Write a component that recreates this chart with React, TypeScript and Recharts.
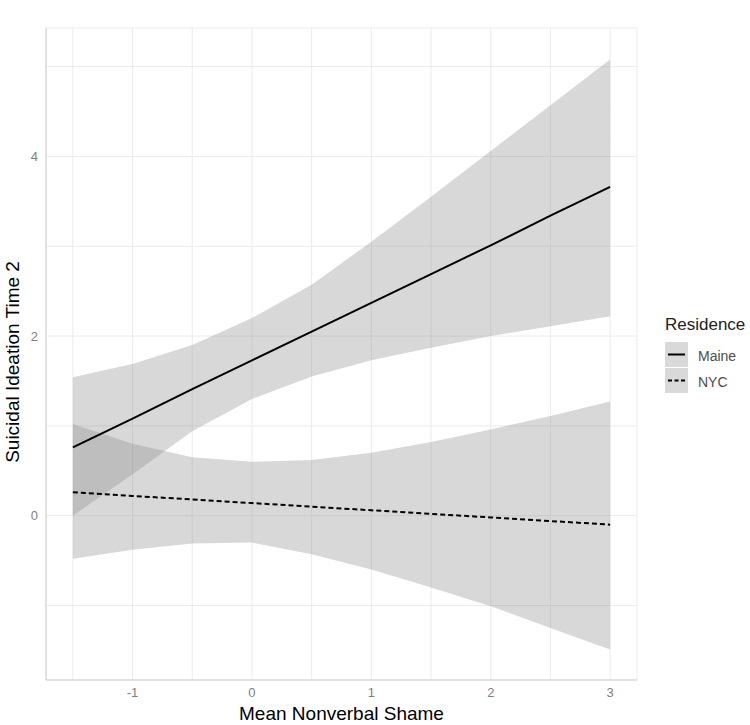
import React from "react";
import {
  Area,
  CartesianGrid,
  ComposedChart,
  Legend,
  Line,
  XAxis,
  YAxis,
} from "recharts";

// shame score sampled along the fitted range
const shame = [-1.5, -1, -0.5, 0, 0.5, 1, 1.5, 2, 2.5, 3];

// Maine: fitted line and 95% band
const maineFit = [0.76, 1.08, 1.41, 1.73, 2.05, 2.37, 2.69, 3.01, 3.34, 3.66];
const maineLow = [0.0, 0.46, 0.94, 1.3, 1.55, 1.73, 1.87, 2.0, 2.11, 2.22];
const maineHigh = [1.54, 1.69, 1.9, 2.2, 2.57, 3.05, 3.55, 4.06, 4.57, 5.08];

// NYC: fitted line and 95% band
const nycFit = [0.26, 0.22, 0.18, 0.14, 0.1, 0.06, 0.02, -0.02, -0.06, -0.1];
const nycLow = [-0.48, -0.38, -0.31, -0.3, -0.43, -0.6, -0.8, -1.01, -1.25, -1.49];
const nycHigh = [1.02, 0.8, 0.65, 0.6, 0.62, 0.7, 0.82, 0.96, 1.11, 1.27];

const xTicks = [-1.5, -1, -0.5, 0, 0.5, 1, 1.5, 2, 2.5, 3];
const xLabels = [-1, 0, 1, 2, 3];
const yTicks = [-1, 0, 1, 2, 3, 4, 5];
const yLabels = [0, 2, 4];

const groups = [
  { name: "Maine", dash: undefined as string | undefined },
  { name: "NYC", dash: "4 2.5" },
];

const data = shame.map((x, i) => ({
  x,
  maine: maineFit[i],
  maineBand: [maineLow[i], maineHigh[i]],
  nyc: nycFit[i],
  nycBand: [nycLow[i], nycHigh[i]],
}));

const FONT = '"Liberation Sans", Arial, sans-serif';
const tickStyle = { fill: "#7f7f7f", fontSize: 13, fontFamily: FONT };

function ResidenceLegend() {
  return (
    <div style={{ fontFamily: FONT }}>
      <div style={{ fontSize: 17, color: "#222", lineHeight: "22px" }}>Residence</div>
      <div style={{ marginTop: 6 }}>
        {groups.map((g) => (
          <div key={g.name} style={{ display: "flex", alignItems: "center", height: 25, marginBottom: 1 }}>
            <svg width={23} height={25} style={{ background: "#d9d9d9", display: "block" }}>
              <line x1={3} y1={12.5} x2={20} y2={12.5} stroke="#000" strokeWidth={2} strokeDasharray={g.dash} />
            </svg>
            <span style={{ marginLeft: 10, fontSize: 14, color: "#4d4d4d", marginTop: 3 }}>{g.name}</span>
          </div>
        ))}
      </div>
    </div>
  );
}

export default function App() {
  return (
    <div style={{ position: "absolute", left: 0, top: 0, background: "#fff" }}>
      <ComposedChart
        width={750}
        height={725}
        data={data}
        margin={{ top: 28, right: 113, bottom: 0, left: 0 }}
      >
        <CartesianGrid stroke="#ebebeb" strokeWidth={1} />
        <XAxis
          dataKey="x"
          type="number"
          domain={[-1.725, 3.225]}
          ticks={xTicks}
          allowDataOverflow
          height={45}
          tickLine={false}
          tickSize={6}
          tickMargin={2}
          stroke="#cfcfcf"
          tick={tickStyle}
          tickFormatter={(v: number) => (xLabels.includes(v) ? String(v) : "")}
          label={{
            value: "Mean Nonverbal Shame",
            position: "insideBottom",
            offset: 5,
            fill: "#000",
            fontSize: 19,
            fontFamily: FONT,
          }}
        />
        <YAxis
          type="number"
          domain={[-1.83, 5.43]}
          ticks={yTicks}
          allowDataOverflow
          width={46}
          tickLine={false}
          tickSize={6}
          tickMargin={2}
          stroke="#cfcfcf"
          tick={tickStyle}
          tickFormatter={(v: number) => (yLabels.includes(v) ? String(v) : "")}
          label={{
            value: "Suicidal Ideation Time 2",
            angle: -90,
            position: "insideLeft",
            offset: 12,
            dy: 8,
            fill: "#000",
            fontSize: 19,
            fontFamily: FONT,
            style: { textAnchor: "middle" },
          }}
        />
        <Area
          dataKey="maineBand"
          type="linear"
          stroke="none"
          fill="#8a8a8a"
          fillOpacity={0.33}
          isAnimationActive={false}
          legendType="none"
        />
        <Area
          dataKey="nycBand"
          type="linear"
          stroke="none"
          fill="#8a8a8a"
          fillOpacity={0.33}
          isAnimationActive={false}
          legendType="none"
        />
        <Line
          dataKey="maine"
          type="linear"
          stroke="#000"
          strokeWidth={2}
          dot={false}
          activeDot={false}
          isAnimationActive={false}
        />
        <Line
          dataKey="nyc"
          type="linear"
          stroke="#000"
          strokeWidth={2}
          strokeDasharray="5 3"
          dot={false}
          activeDot={false}
          isAnimationActive={false}
        />
        <Legend
          layout="vertical"
          align="center"
          verticalAlign="middle"
          content={() => <ResidenceLegend />}
          wrapperStyle={{ left: 665, top: 314, width: 85 }}
        />
      </ComposedChart>
    </div>
  );
}
